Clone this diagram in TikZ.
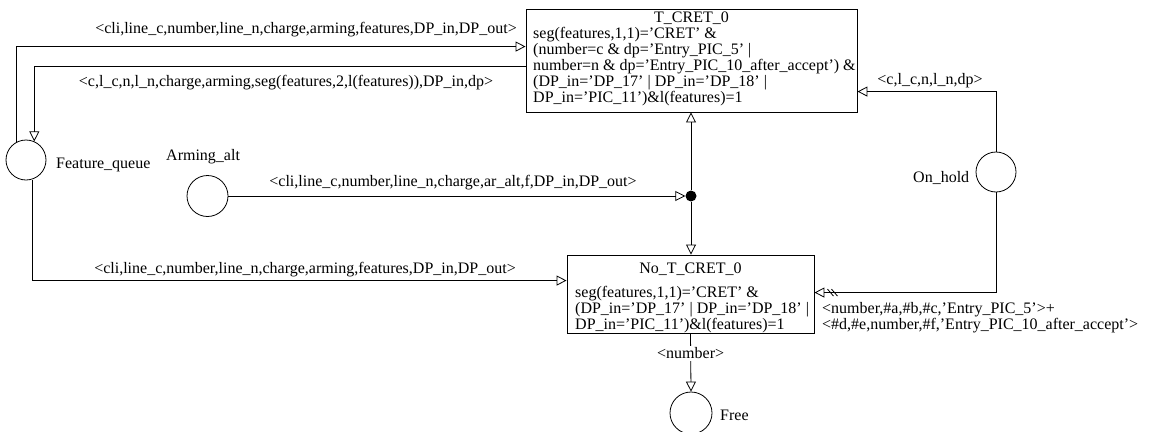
\documentclass[tikz,border=0pt]{standalone}
\usepackage{fontspec}
\setmainfont{Liberation Serif}
\usetikzlibrary{arrows.meta,calc}

\begin{document}
\begin{tikzpicture}[x=1pt,y=-1pt,
  every node/.style={font=\fontsize{16}{16}\selectfont},
  place/.style={circle,draw,line width=0.8pt,minimum size=40pt,inner sep=0pt},
  trans/.style={rectangle,draw,line width=0.9pt,inner sep=0pt},
  txt/.style={inner sep=0pt,anchor=base west},
  lbl/.style={inner sep=0pt,anchor=base},
  arc/.style={line width=0.8pt,-{Triangle[open,length=10pt,width=10pt]}},
  link/.style={line width=0.8pt},
]
\useasboundingbox (0,0) rectangle (1150,431);
\clip (0,0) rectangle (1150,431);

% transitions
\node[trans,minimum width=331pt,minimum height=103pt] (Tc) at (691.5,60.5) {};
\node[lbl] (TcT) at (691.5,23) {T\_CRET\_0};
\node[txt] (Tc1) at (533,38)  {seg(features,1,1)='CRET' \&};
\node[txt] (Tc2) at (533,54)  {(number=c \& dp='Entry\_PIC\_5' |};
\node[txt] (Tc3) at (533,70)  {number=n \& dp='Entry\_PIC\_10\_after\_accept') \&};
\node[txt] (Tc4) at (533,86)  {(DP\_in='DP\_17' | DP\_in='DP\_18' |};
\node[txt] (Tc5) at (533,102) {DP\_in='PIC\_11')\&l(features)=1};

\node[trans,minimum width=247pt,minimum height=78pt] (No) at (690.5,294) {};
\node[lbl] (NoT) at (690.5,273) {No\_T\_CRET\_0};
\node[txt] (No1) at (575,297) {seg(features,1,1)='CRET' \&};
\node[txt] (No2) at (575,313) {(DP\_in='DP\_17' | DP\_in='DP\_18' |};
\node[txt] (No3) at (575,329) {DP\_in='PIC\_11')\&l(features)=1};

% places
\node[place] (FQ) at (26,160) {};
\node[txt] (FQl) at (56,168) {Feature\_queue};
\node[place,minimum size=41pt] (AR) at (207.5,196) {};
\node[txt] (ARl) at (166,160) {Arming\_alt};
\node[place] (OH) at (996,172) {};
\node[txt] (OHl) at (913,182) {On\_hold};
\node[place,minimum size=42pt] (FR) at (691,413) {};
\node[txt] (FRl) at (720,420) {Free};

% junction
\node[circle,fill,inner sep=0pt,minimum size=11pt] (Jn) at (691,196) {};

% arcs
\draw[arc] (FQ.117) |- ([yshift=-38pt]Tc.north west);
\node[lbl] (L1) at (306,33) {<cli,line\_c,number,line\_n,charge,arming,features,DP\_in,DP\_out>};

\draw[arc] ([yshift=-58pt]Tc.north west) -| (FQ.66);
\node[lbl] (L2) at (286,86) {<c,l\_c,n,l\_n,charge,arming,seg(features,2,l(features)),DP\_in,dp>};

\draw[arc] (AR.east) -- (Jn.west);
\node[lbl] (L3) at (453,186) {<cli,line\_c,number,line\_n,charge,ar\_alt,f,DP\_in,DP\_out>};

\draw[arc] (Jn.north) -- (Jn |- Tc.south);
\draw[arc] (Jn.south) -- (Jn |- No.north);

\draw[arc] (FQ.-73) |- ([yshift=-26pt]No.north west);
\node[lbl] (L4) at (305,273) {<cli,line\_c,number,line\_n,charge,arming,features,DP\_in,DP\_out>};

\draw[arc] (OH.north) |- ([yshift=-83pt]Tc.north east);
\node[lbl] (L5) at (930,84) {<c,l\_c,n,l\_n,dp>};

\coordinate (hb) at ([yshift=-38pt]No.north east);
\draw[arc] (OH.south) |- (hb);
\draw[link] ([xshift=13pt,yshift=3.5pt]hb) -- ([xshift=19pt,yshift=-3.5pt]hb);
\draw[link] ([xshift=17pt,yshift=3.5pt]hb) -- ([xshift=23pt,yshift=-3.5pt]hb);
\node[txt] (L6a) at (822,313) {<number,\#a,\#b,\#c,'Entry\_PIC\_5'>+};
\node[txt] (L6b) at (822,329) {<\#d,\#e,number,\#f,'Entry\_PIC\_10\_after\_accept'>};

\draw[arc] (No.south) -- node[pos=0.34,fill=white,inner sep=2pt] (L7) {<number>} (FR.north);
\end{tikzpicture}
\end{document}
